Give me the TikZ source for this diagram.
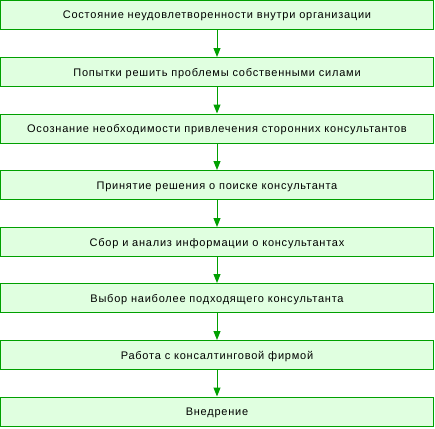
\documentclass[tikz,border=0pt]{standalone}
\usepackage{fontspec}
\setmainfont[LetterSpace=7]{Liberation Sans}
\usetikzlibrary{arrows.meta}
\definecolor{boxgreen}{RGB}{0,160,0}
\definecolor{boxfill}{RGB}{224,255,224}
\newcommand{\clrline}{boxgreen}
\newcommand{\clrfill}{boxfill}

\begin{document}
\begin{tikzpicture}[x=1pt, y=1pt,
    stage/.style={draw=\clrline, fill=\clrfill, line width=1pt, minimum width=433pt, minimum height=29pt, inner sep=0pt, text height=8pt, text depth=0pt, font=\fontsize{11}{13}\selectfont},
    flow/.style={draw=\clrline, line width=1pt, -{Triangle[width=7pt, length=9pt]}}]
    \useasboundingbox (0,0) rectangle (435,-428);

    \node[stage] (s1) at (217,-15)    {Состояние неудовлетворенности внутри организации};
    \node[stage] (s2) at (217,-72)    {Попытки решить проблемы собственными силами};
    \node[stage] (s3) at (217,-128.5) {Осознание необходимости привлечения сторонних консультантов};
    \node[stage] (s4) at (217,-185)   {Принятие решения о поиске консультанта};
    \node[stage] (s5) at (217,-242)   {Сбор и анализ информации о консультантах};
    \node[stage] (s6) at (217,-298)   {Выбор наиболее подходящего консультанта};
    \node[stage] (s7) at (217,-355)   {Работа с консалтинговой фирмой};
    \node[stage] (s8) at (217,-411.5) {Внедрение};

    \draw[flow] (s1) -- (s2);
    \draw[flow] (s2) -- (s3);
    \draw[flow] (s3) -- (s4);
    \draw[flow] (s4) -- (s5);
    \draw[flow] (s5) -- (s6);
    \draw[flow] (s6) -- (s7);
    \draw[flow] (s7) -- (s8);
\end{tikzpicture}
\end{document}
